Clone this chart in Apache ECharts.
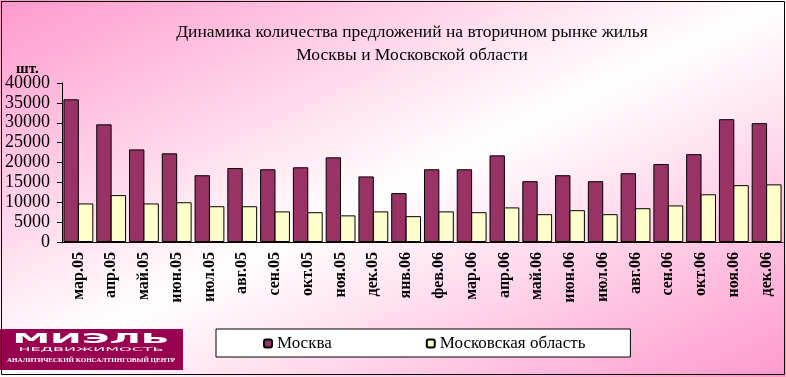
<!DOCTYPE html>
<html>
<head>
<meta charset="utf-8">
<script src="https://cdn.jsdelivr.net/npm/echarts@6/dist/echarts.min.js"></script>
<style>
html,body{margin:0;padding:0;}
#main{width:786px;height:377px;background:linear-gradient(to bottom right,#ff99cc 0%,#ffffff 50%,#ff99cc 100%);}
</style>
</head>
<body>
<div id="main"></div>
<script>
// месяцы
var months=['мар.05','апр.05','май.05','июн.05','июл.05','авг.05','сен.05','окт.05','ноя.05','дек.05','янв.06',
	'фев.06','мар.06','апр.06','май.06','июн.06','июл.06','авг.06','сен.06','окт.06','ноя.06','дек.06'];
// количество предложений, шт.
var moskva=[35900,29600,23300,22300,16800,18600,18300,18800,21300,16500,12300,
	18300,18300,21800,15300,16800,15300,17300,19600,22100,30900,29900];
var oblast=[9700,11800,9700,10000,9000,9000,7700,7500,6700,7700,6500,
	7700,7500,8700,7000,8000,7000,8500,9200,12000,14300,14500];
var seriesNames=['Москва','Московская область'];
var yMin=0, yMax=40000, yStep=5000;

var serif='"Liberation Serif","DejaVu Serif",serif';

var myChart=echarts.init(document.getElementById('main'));
myChart.setOption({
	backgroundColor:'transparent',
	animation:false,
	title:{
		text:'Динамика количества предложений на вторичном рынке жилья\nМосквы и Московской области',
		left:407,
		textAlign:'center',
		top:16,
		textStyle:{fontFamily:serif,fontSize:17.5,fontWeight:'normal',color:'#000',lineHeight:23}
	},
	legend:{
		data:seriesNames,
		left:216,
		top:329,
		width:417,
		padding:[6,45,5,47],
		itemGap:94,
		itemWidth:8,
		itemHeight:8,
		backgroundColor:'#fff',
		borderColor:'#000',
		borderWidth:1,
		textStyle:{fontFamily:serif,fontSize:17,color:'#000'}
	},
	grid:{left:62,right:3,top:83,bottom:135,containLabel:false},
	xAxis:{
		type:'category',
		data:months,
		axisLine:{lineStyle:{color:'#000',width:1}},
		axisTick:{length:4,lineStyle:{color:'#000'}},
		axisLabel:{rotate:90,margin:10,interval:0,fontFamily:serif,fontSize:16,fontWeight:'bold',color:'#000'}
	},
	yAxis:{
		type:'value',
		min:yMin,max:yMax,interval:yStep,
		axisLine:{show:true,lineStyle:{color:'#000',width:1}},
		axisTick:{show:true,length:5,lineStyle:{color:'#000'}},
		splitLine:{show:false},
		axisLabel:{margin:12,fontFamily:serif,fontSize:18,color:'#000',
			formatter:function(v){return String(v);}}
	},
	series:[
		{
			name:seriesNames[0],type:'bar',data:moskva,
			barGap:'-6%',barCategoryGap:'9%',
			itemStyle:{color:'#993366',borderColor:'#000',borderWidth:1}
		},
		{
			name:seriesNames[1],type:'bar',data:oblast,
			barGap:'-6%',barCategoryGap:'9%',
			itemStyle:{color:'#ffffcc',borderColor:'#000',borderWidth:1}
		}
	],
	graphic:[
		{type:'text',left:16,top:62,style:{text:'шт.',font:'bold 15px '+serif,fill:'#000'}},
		//логотип
		{type:'rect',shape:{x:0,y:329,width:183,height:41},style:{fill:'#990050'}},
		{type:'text',x:91,y:332,scaleX:2.7,style:{text:'МИЭЛЬ',font:'bold 14px "DejaVu Sans",sans-serif',fill:'#fff',textAlign:'center'}},
		{type:'text',x:91,y:347,scaleX:3.2,style:{text:'НЕДВИЖИМОСТЬ',font:'5px "DejaVu Sans",sans-serif',fill:'#fff',textAlign:'center'}},
		{type:'text',x:91,y:357,style:{text:'АНАЛИТИЧЕСКИЙ КОНСАЛТИНГОВЫЙ ЦЕНТР',font:'bold 7px '+serif,fill:'#fff',textAlign:'center'}},
		//рамка
		{type:'rect',shape:{x:1.5,y:1.5,width:783,height:373},style:{fill:'none',stroke:'#000',lineWidth:1},z:100}
	]
});
</script>
</body>
</html>
